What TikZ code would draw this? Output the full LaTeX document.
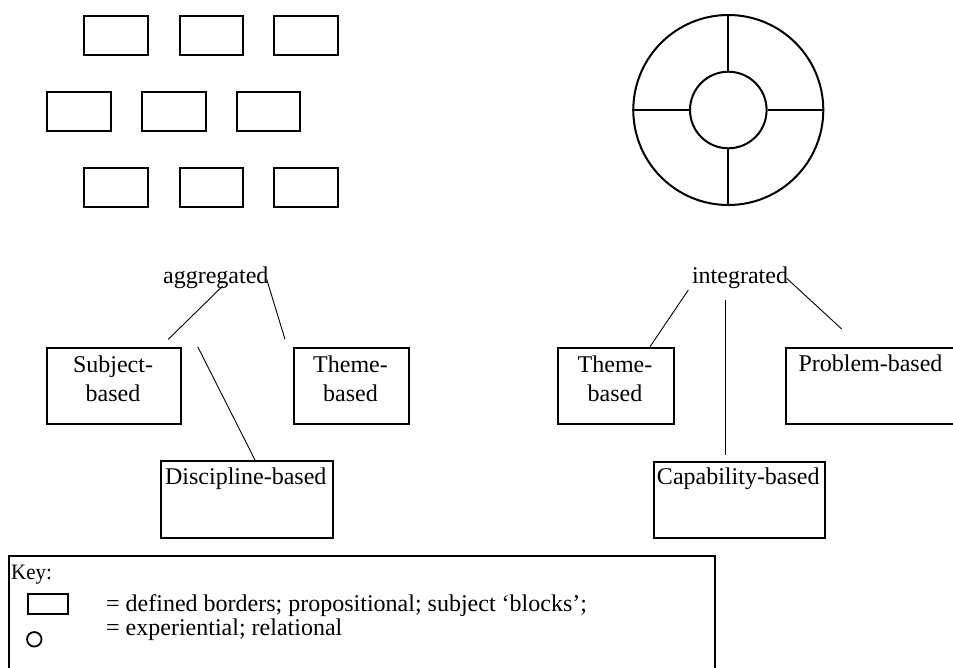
\documentclass[tikz,border=0pt]{standalone}
\usepackage{fontspec}
\setmainfont{Liberation Serif}
\newfontfamily\keyhead[FakeStretch=0.95]{Liberation Serif}
\begin{document}
\begin{tikzpicture}[x=1pt,y=-1pt,
  block/.style={draw, line width=2pt, minimum width=63.5pt, minimum height=39.3pt,
    inner sep=0pt, anchor=north west},
  catbox/.style={draw, line width=2pt, inner sep=0pt, anchor=north west},
  boxtext/.style={inner sep=0pt, anchor=base, align=center,
    font=\fontsize{24}{29}\selectfont},
  plain/.style={inner sep=0pt, anchor=base, font=\fontsize{24}{29}\selectfont},
  keyline/.style={inner sep=0pt, anchor=base west, font=\fontsize{24}{29}\selectfont},
  link/.style={line width=0.9pt},
  ring/.style={draw, circle, line width=2pt, inner sep=0pt}]
\useasboundingbox (0,0) rectangle (953,667);
\clip (0,0) rectangle (953,667);

% brick-like blocks: the aggregated curriculum
\foreach \r/\y in {1/15, 3/166.7}{
  \foreach \c/\x in {1/83.3, 2/178.7, 3/273.3}{
    \node[block] (b\r\c) at (\x,\y) {};
  }
}
\foreach \c/\x in {1/46, 2/141, 3/235.7}{
  \node[block] (b2\c) at (\x,90.7) {};
}

% ring with spokes: the integrated curriculum
\node[ring, minimum size=190pt] (outer) at (728.3,110) {};
\node[ring, minimum size=76.6pt] (inner) at (728.3,110) {};
\draw[line width=2pt] (inner.north) -- (outer.north)
  (inner.south) -- (outer.south)
  (inner.east) -- (outer.east)
  (inner.west) -- (outer.west);

% left tree
\node[plain] (agg) at (215.8,283) {aggregated};
\node[catbox, minimum width=134pt, minimum height=76pt] (subj) at (46,347.3) {};
\node[boxtext] (subjt) at (113,401.5) {Subject-\\based};
\node[catbox, minimum width=114.4pt, minimum height=76pt] (themeL) at (293.3,347.3) {};
\node[boxtext] (themeLt) at (350.5,401) {Theme-\\based};
\node[catbox, minimum width=171.7pt, minimum height=77pt] (disc) at (160,460) {};
\node[boxtext] (disct) at (245.8,484.3) {Discipline-based};

\coordinate (a1) at (222.7,286);
\coordinate (a1e) at (168.3,339.3);
\coordinate (a2) at (266.7,279.3);
\coordinate (a2e) at (285,339.3);
\coordinate (a3) at (197.7,346.7);
\coordinate (a3e) at (255,460);
\draw[link] (a1) -- (a1e);
\draw[link] (a2) -- (a2e);
\draw[link] (a3) -- (a3e);

% right tree
\node[plain] (int) at (740,283) {integrated};
\node[catbox, minimum width=115.4pt, minimum height=76pt] (themeR) at (557.3,347.3) {};
\node[boxtext] (themeRt) at (615,401) {Theme-\\based};
\node[catbox, minimum width=180pt, minimum height=76pt] (prob) at (785,347.3) {};
\node[keyline] (probt) at (798.3,371.7) {Problem-based};
\node[catbox, minimum width=171.3pt, minimum height=76.6pt] (cap) at (652.7,460.7) {};
\node[boxtext] (capt) at (738.3,484.6) {Capability-based};

\coordinate (i1) at (688.3,290);
\coordinate (i1e) at (650,346.7);
\coordinate (i2) at (725.7,300);
\coordinate (i2e) at (725.7,455);
\coordinate (i3) at (786.7,278.3);
\coordinate (i3e) at (841.7,329);
\draw[link] (i1) -- (i1e);
\draw[link] (i2) -- (i2e);
\draw[link] (i3) -- (i3e);

% key
\node[catbox, minimum width=706pt, minimum height=140pt] (key) at (8,555) {};
\node[inner sep=0pt, anchor=base west, font=\keyhead\fontsize{22}{26}\selectfont] (keyt) at (11,579) {Key:};
\node[catbox, minimum width=39.4pt, minimum height=20.6pt] (keyrect) at (27.3,592.7) {};
\node[draw, circle, line width=1.8pt, minimum size=14.5pt, inner sep=0pt] (keycirc) at (34.3,639.3) {};
\node[keyline] (k1) at (106,611) {= defined borders; propositional; subject ‘blocks’;};
\node[keyline] (k2) at (106,635) {= experiential; relational};
\end{tikzpicture}
\end{document}
